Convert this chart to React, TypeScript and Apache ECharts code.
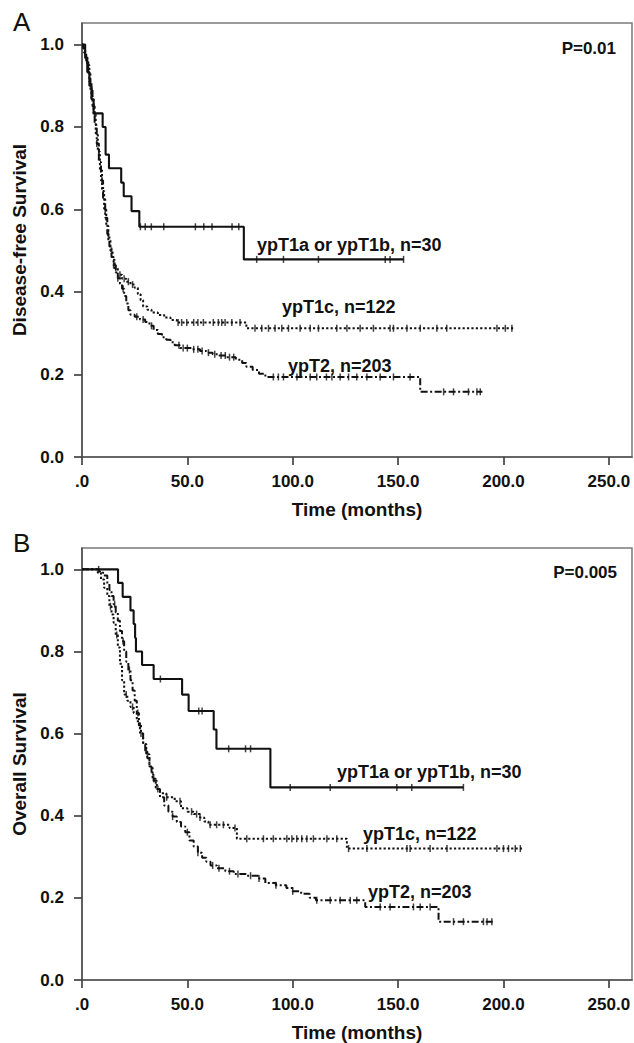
import React, { useEffect, useRef } from "react";
import * as echarts from "echarts";

// ---------- axis ticks ----------
const xTicks = [0, 50, 100, 150, 200, 250];
const yTicks = [0, 0.2, 0.4, 0.6, 0.8, 1.0];

// ---------- Panel A: disease-free survival ([months, survival]) ----------
const dfsT1ab = [
  [0, 1], [1.5, 0.967], [2.5, 0.933], [3.5, 0.9], [4.5, 0.867], [5.5, 0.833],
  [9.8, 0.8], [11.2, 0.733], [12.8, 0.7], [18.6, 0.665], [19.8, 0.632],
  [23.5, 0.596], [27.2, 0.558], [76.8, 0.479], [152.6, 0.479],
];
const dfsT1abCens = [27.7, 30, 32.9, 38.8, 53.8, 57.8, 61.7, 71.2, 74.4, 82.9, 95.6, 112.2, 143.9, 146.2, 152.6];

const dfsT1c = [
  [0, 1], [0.5, 0.992], [1.5, 0.975], [2.5, 0.95], [3.5, 0.91], [4.5, 0.87], [5.5, 0.83],
  [6.5, 0.785], [7.5, 0.74], [8.5, 0.695], [9.5, 0.645], [10.5, 0.6], [11.5, 0.56],
  [12.5, 0.525], [13.5, 0.5], [14.5, 0.478], [15.5, 0.458], [17, 0.442], [19, 0.432],
  [21, 0.425], [23, 0.418], [25, 0.41], [26.5, 0.395], [27.8, 0.38], [29, 0.365],
  [31, 0.357], [33, 0.35], [36, 0.344], [39, 0.338], [42, 0.332], [45, 0.326],
  [78, 0.312], [205, 0.312],
];
const dfsT1cCens = [3, 6, 8, 11, 14, 16, 18, 20, 22, 24, 45.6, 47.3, 49.7, 53, 55, 57.6, 62.3, 64.7, 66.3, 67.9, 71.1, 75, 82.1, 85.3, 88.5, 91.6, 94.8, 98, 103.5, 108.3, 112.2, 120.9, 125.7, 132, 138.3, 146.2, 147.8, 154.2, 160.5, 168.4, 173.1, 196.9, 200.9, 204];

const dfsT2 = [
  [0, 1], [0.5, 0.99], [1, 0.98], [2, 0.96], [3, 0.93], [4, 0.89], [5, 0.85], [6, 0.805],
  [7, 0.76], [8, 0.715], [9, 0.67], [10, 0.625], [11, 0.58], [12, 0.54], [13, 0.51],
  [14, 0.485], [15, 0.465], [16, 0.447], [17, 0.433], [18, 0.42], [19, 0.408], [20, 0.39],
  [21, 0.372], [22, 0.356], [23, 0.345], [25, 0.34], [27.5, 0.333], [30, 0.327], [32, 0.318],
  [34, 0.308], [36, 0.298], [38, 0.29], [40, 0.284], [42, 0.278], [44, 0.271], [46.5, 0.264],
  [52, 0.261], [56, 0.257], [59, 0.253], [62, 0.249], [65, 0.246], [69, 0.242], [73, 0.236],
  [76, 0.228], [78, 0.219], [81, 0.211], [84, 0.202], [87, 0.194], [160.5, 0.158], [190, 0.158],
];
const dfsT2Cens = [2.5, 4.5, 7, 9.5, 12.5, 15, 17, 19.5, 26, 29, 33, 46, 48, 50, 53, 55, 57, 60, 63, 66, 68, 70, 72, 90.8, 93.2, 95.6, 102, 108.3, 111.4, 116, 118.6, 122.5, 126.5, 130.4, 135.2, 141.5, 147.8, 155.7, 171.6, 176.3, 183.4, 187.4, 189];

// ---------- Panel B: overall survival ([months, survival]) ----------
const osT1ab = [
  [0, 1], [17.1, 0.967], [19.3, 0.933], [23, 0.9], [24.5, 0.867], [25.2, 0.833], [25.6, 0.8],
  [28.5, 0.767], [34, 0.733], [47.5, 0.695], [50.6, 0.655], [62.5, 0.61], [63.8, 0.563],
  [89.4, 0.469], [181, 0.469],
];
const osT1abCens = [37.2, 55.4, 57, 69.6, 77.6, 80, 98.8, 117.8, 149.4, 156.5, 181];

const osT1c = [
  [0, 1], [7.5, 0.992], [9, 0.975], [10.5, 0.955], [12, 0.935], [13, 0.91], [14, 0.89],
  [15, 0.87], [16, 0.84], [17, 0.81], [18, 0.77], [19, 0.73], [20, 0.695], [21.5, 0.68],
  [23, 0.665], [24.5, 0.65], [26, 0.63], [27.5, 0.6], [29, 0.575], [30.5, 0.55], [32, 0.52],
  [33.5, 0.49], [35, 0.465], [37, 0.455], [40, 0.445], [44, 0.435], [47, 0.418], [50, 0.41],
  [53, 0.404], [56, 0.396], [58, 0.386], [60, 0.378], [70, 0.37], [73.5, 0.344],
  [125.7, 0.32], [208.8, 0.32],
];
const osT1cCens = [13.5, 16.5, 21, 24, 28, 31, 34, 40.2, 46.5, 52, 54.4, 56, 60.8, 63.9, 67.1, 72.6, 78.2, 86.1, 90.8, 97.2, 99.6, 101.9, 104.3, 106.7, 109.8, 116.2, 120.9, 126.5, 135.2, 154.2, 155.7, 165.2, 173.2, 196.9, 200, 202.4, 205.6, 208];

const osT2 = [
  [0, 1], [8, 0.995], [10, 0.985], [12, 0.965], [13, 0.95], [14, 0.935], [15, 0.915],
  [16, 0.895], [17, 0.875], [18, 0.85], [19, 0.825], [20, 0.8], [21, 0.775], [22, 0.755],
  [23, 0.73], [24, 0.705], [25, 0.68], [26, 0.65], [27, 0.62], [28, 0.6], [29, 0.578],
  [30, 0.558], [31, 0.54], [32, 0.52], [33, 0.5], [34, 0.485], [35.5, 0.465], [37, 0.445],
  [39, 0.425], [41, 0.41], [43, 0.398], [45, 0.385], [47, 0.374], [49, 0.36], [51, 0.34],
  [53, 0.325], [55, 0.31], [57, 0.298], [59, 0.288], [61, 0.279], [64, 0.272], [68, 0.265],
  [72, 0.258], [78, 0.254], [84, 0.247], [87, 0.236], [92, 0.231], [97, 0.224], [100, 0.216],
  [104, 0.21], [108, 0.2], [111, 0.194], [134.4, 0.178], [169.2, 0.142], [195.3, 0.142],
];
const osT2Cens = [7.9, 15.5, 19.5, 22.5, 26.5, 30.5, 36, 43, 50, 55, 62, 65, 70, 74, 80, 84, 92, 100, 111.4, 117.8, 122.5, 127.3, 130.4, 141.5, 146.2, 157.3, 160.5, 165.2, 176.3, 181, 190.5, 192.2, 194.5];

// ---------- texts ----------
const panelLetters = ["A", "B"];
const pValues = ["P=0.01", "P=0.005"];
const groupLabels = ["ypT1a or ypT1b, n=30", "ypT1c, n=122", "ypT2, n=203"];
const yTitles = ["Disease-free Survival", "Overall Survival"];
const xTitle = "Time (months)";

const INK = "#111111";
const FONT = '"Liberation Sans", Arial, Helvetica, sans-serif';

function survAt(curve: number[][], t: number): number {
  let s = curve[0][1];
  for (const p of curve) {
    if (p[0] <= t) s = p[1];
    else break;
  }
  return s;
}

const lineTypes: any[] = ["solid", [2.2, 2.2], [7, 2.5, 2, 2.5]];

export default function App() {
  const ref = useRef<HTMLDivElement>(null);

  useEffect(() => {
    if (!ref.current) return;
    const chart = echarts.init(ref.current, undefined, { renderer: "svg" });

    const panels = [
      { curves: [dfsT1ab, dfsT1c, dfsT2], cens: [dfsT1abCens, dfsT1cCens, dfsT2Cens] },
      { curves: [osT1ab, osT1c, osT2], cens: [osT1abCens, osT1cCens, osT2Cens] },
    ];
    const gridTops = [23, 548];

    const series: any[] = [];
    panels.forEach((p, pi) => {
      p.curves.forEach((c, ci) => {
        series.push({
          type: "line",
          xAxisIndex: pi,
          yAxisIndex: pi,
          data: c,
          step: "end",
          showSymbol: false,
          silent: true,
          lineStyle: { color: INK, width: ci === 0 ? 2.1 : 2, type: lineTypes[ci] },
        });
        series.push({
          type: "scatter",
          xAxisIndex: pi,
          yAxisIndex: pi,
          data: p.cens[ci].map((t) => [t, survAt(c, t)]),
          symbol: "rect",
          symbolSize: [1.5, 7],
          silent: true,
          itemStyle: { color: INK },
        });
      });
    });

    const grid = gridTops.map((top) => ({
      left: 82,
      top,
      width: 550,
      height: 434,
      show: true,
      borderColor: "#7a7a7a",
      borderWidth: 1.5,
      backgroundColor: "transparent",
    }));

    const xAxis = gridTops.map((_, i) => ({
      type: "value",
      gridIndex: i,
      min: 0,
      max: 261,
      name: xTitle,
      nameLocation: "middle",
      nameGap: 43,
      nameTextStyle: { fontSize: 19, fontWeight: "bold", color: INK, fontFamily: FONT },
      axisLine: { show: true, onZero: false, lineStyle: { color: "#555555", width: 1.7 } },
      axisTick: { show: true, length: 8, customValues: xTicks, lineStyle: { color: "#444444", width: 1.7 } },
      axisLabel: {
        customValues: xTicks,
        margin: 16,
        fontSize: 17,
        fontWeight: "bold",
        color: INK,
        fontFamily: FONT,
        formatter: (v: number) => (v === 0 ? ".0" : v.toFixed(1)),
      },
      splitLine: { show: false },
    }));

    const yAxis = gridTops.map((_, i) => ({
      type: "value",
      gridIndex: i,
      min: 0,
      max: 1.052,
      name: yTitles[i],
      nameLocation: "middle",
      nameGap: 50,
      nameTextStyle: { fontSize: 19, fontWeight: "bold", color: INK, fontFamily: FONT },
      axisLine: { show: true, onZero: false, lineStyle: { color: "#555555", width: 1.7 } },
      axisTick: { show: true, length: 8, customValues: yTicks, lineStyle: { color: "#444444", width: 1.7 } },
      axisLabel: {
        customValues: yTicks,
        margin: 18,
        fontSize: 17,
        fontWeight: "bold",
        color: INK,
        fontFamily: FONT,
        formatter: (v: number) => v.toFixed(1),
      },
      splitLine: { show: false },
    }));

    const labelPos = [
      [[257, 245], [282, 307], [288, 366]],
      [[337, 772], [363, 834], [368, 892]],
    ];
    const letterPos = [[13, 22], [13, 543]];
    const pPos = [[616, 48], [617, 572]];

    const graphic: any[] = [];
    [0, 1].forEach((i) => {
      graphic.push({
        type: "text",
        x: letterPos[i][0],
        y: letterPos[i][1],
        silent: true,
        style: { text: panelLetters[i], fill: INK, font: `normal 26px ${FONT}`, align: "left", verticalAlign: "middle" },
      });
      graphic.push({
        type: "text",
        x: pPos[i][0],
        y: pPos[i][1],
        silent: true,
        style: { text: pValues[i], fill: INK, font: `bold 17px ${FONT}`, align: "right", verticalAlign: "middle" },
      });
      groupLabels.forEach((g, gi) => {
        graphic.push({
          type: "text",
          x: labelPos[i][gi][0],
          y: labelPos[i][gi][1],
          silent: true,
          style: { text: g, fill: INK, font: `bold 18px ${FONT}`, align: "left", verticalAlign: "middle" },
        });
      });
    });

    chart.setOption({
      animation: false,
      backgroundColor: "#ffffff",
      grid,
      xAxis,
      yAxis,
      series,
      graphic,
    });

    return () => chart.dispose();
  }, []);

  return (
    <div
      ref={ref}
      style={{ position: "fixed", left: 0, top: 0, width: 634, height: 1043, background: "#fff" }}
    />
  );
}
